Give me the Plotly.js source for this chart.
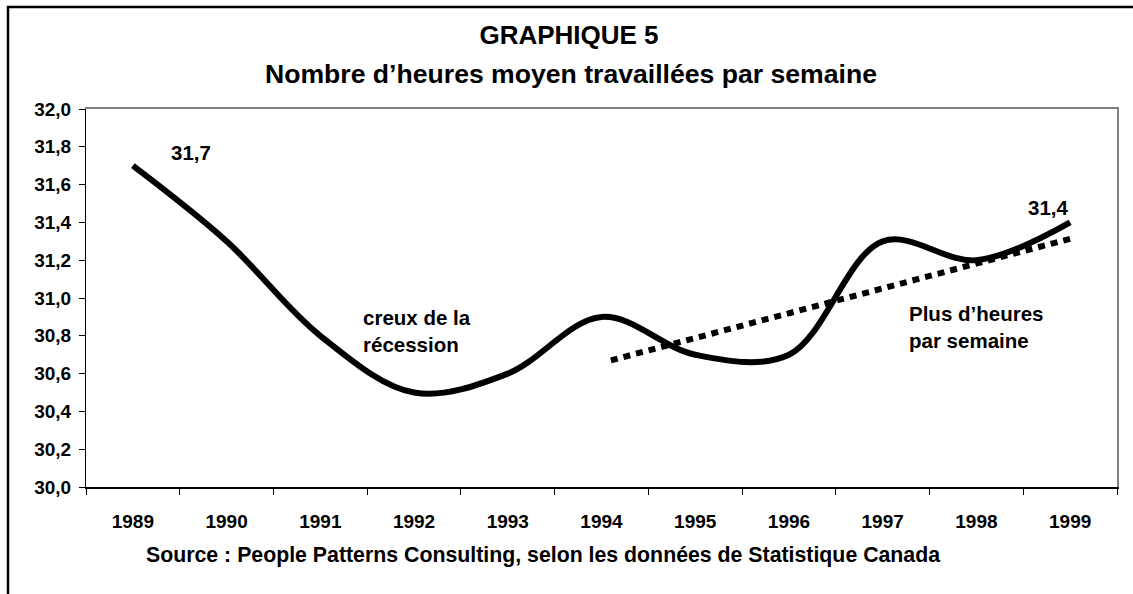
<!DOCTYPE html>
<html>
<head>
<meta charset="utf-8">
<script src="https://cdn.plot.ly/plotly-3.0.1.min.js"></script>
<style>
html,body{margin:0;padding:0;background:#fff;overflow:hidden;}
#chart{width:1133px;height:594px;}
</style>
</head>
<body>
<div id="chart"></div>
<script>
// Data
var years = ["1989","1990","1991","1992","1993","1994","1995","1996","1997","1998","1999"];
var hours = [31.7, 31.3, 30.8, 30.5, 30.6, 30.9, 30.7, 30.7, 31.3, 31.2, 31.4];
var trendX = [5.1, 10.05];
var trendY = [30.67, 31.32];
var yTicks = [30.0, 30.2, 30.4, 30.6, 30.8, 31.0, 31.2, 31.4, 31.6, 31.8, 32.0];
var titleLine1 = "GRAPHIQUE 5";
var titleLine2 = "Nombre d’heures moyen travaillées par semaine";
var sourceText = "Source : People Patterns Consulting, selon les données de Statistique Canada";
var labelStart = "31,7";
var labelEnd = "31,4";
var noteRecession = "creux de la<br>récession";
var noteTrend = "Plus d’heures<br>par semaine";

var FONT = "Liberation Sans, Arial, Helvetica, sans-serif";
function bf(size){ return {family: FONT, size: size, color: "#000", weight: "bold"}; }

var traces = [
  {
    x: years, y: hours, type: "scatter", mode: "lines",
    line: {color: "#000", width: 6, shape: "spline", smoothing: 1},
    hoverinfo: "skip", showlegend: false
  },
  {
    x: trendX, y: trendY, xaxis: "x2", yaxis: "y2", type: "scatter", mode: "lines",
    line: {color: "#000", width: 6, dash: "7px,6px"},
    hoverinfo: "skip", showlegend: false
  }
];

var layout = {
  width: 1133, height: 594,
  margin: {l: 86, r: 16, t: 109, b: 107},
  paper_bgcolor: "#fff", plot_bgcolor: "#fff",
  separators: ",.",
  showlegend: false,
  title: {text: titleLine1, font: bf(26), x: 569/1133, xref: "container", xanchor: "center",
          y: 1 - 35/594, yref: "container", yanchor: "middle"},
  xaxis: {
    type: "category", categoryorder: "array", categoryarray: years,
    range: [-0.5, 10.5], tickson: "boundaries",
    ticks: "outside", ticklen: 6, tickwidth: 1, tickcolor: "#000",
    showline: true, linecolor: "#000", linewidth: 2,
    showgrid: false, zeroline: false,
    tickfont: bf(19), ticklabelstandoff: 16, fixedrange: true
  },
  xaxis2: {
    overlaying: "x", side: "top", range: [-0.5, 10.5],
    showline: true, linecolor: "#808080", linewidth: 2,
    ticks: "", showticklabels: false, showgrid: false, zeroline: false, fixedrange: true
  },
  yaxis: {
    range: [30, 32], tickvals: yTicks, tickformat: ".1f",
    ticks: "outside", ticklen: 6, tickwidth: 1, tickcolor: "#000",
    showline: true, linecolor: "#000", linewidth: 1,
    showgrid: false, zeroline: false,
    tickfont: bf(19), ticklabelstandoff: 4, fixedrange: true
  },
  yaxis2: {
    overlaying: "y", side: "right", range: [30, 32],
    showline: true, linecolor: "#808080", linewidth: 2,
    ticks: "", showticklabels: false, showgrid: false, zeroline: false, fixedrange: true
  },
  annotations: [
    {text: titleLine2, xref: "paper", yref: "paper", x: (571-86)/1031, y: 1 + (109-74)/378,
     xanchor: "center", yanchor: "middle", showarrow: false, font: bf(26.6)},
    {text: labelStart, xref: "paper", yref: "paper", x: (191-86)/1031, y: 1 - (152-109)/378,
     xanchor: "center", yanchor: "middle", showarrow: false, font: bf(20.5)},
    {text: labelEnd, xref: "paper", yref: "paper", x: (1048-86)/1031, y: 1 - (207-109)/378,
     xanchor: "center", yanchor: "middle", showarrow: false, font: bf(20.5)},
    {text: noteRecession, xref: "paper", yref: "paper", x: (361-86)/1031, y: 1 - (331-109)/378,
     xanchor: "left", yanchor: "middle", align: "left", showarrow: false, font: bf(20.5)},
    {text: noteTrend, xref: "paper", yref: "paper", x: (907-86)/1031, y: 1 - (327-109)/378,
     xanchor: "left", yanchor: "middle", align: "left", showarrow: false, font: bf(20.5)},
    {text: sourceText, xref: "paper", yref: "paper", x: (144-86)/1031, y: -(555-487)/378,
     xanchor: "left", yanchor: "middle", align: "left", showarrow: false, font: bf(21.3)}
  ],
  shapes: [
    {type: "rect", xref: "paper", yref: "paper",
     x0: (8-86)/1031, x1: 1.2, y0: -0.5, y1: 1 + (109-7)/378,
     line: {color: "#000", width: 2.5}, fillcolor: "rgba(0,0,0,0)", layer: "below"}
  ]
};

Plotly.newPlot("chart", traces, layout, {displayModeBar: false, staticPlot: true});
</script>
</body>
</html>
